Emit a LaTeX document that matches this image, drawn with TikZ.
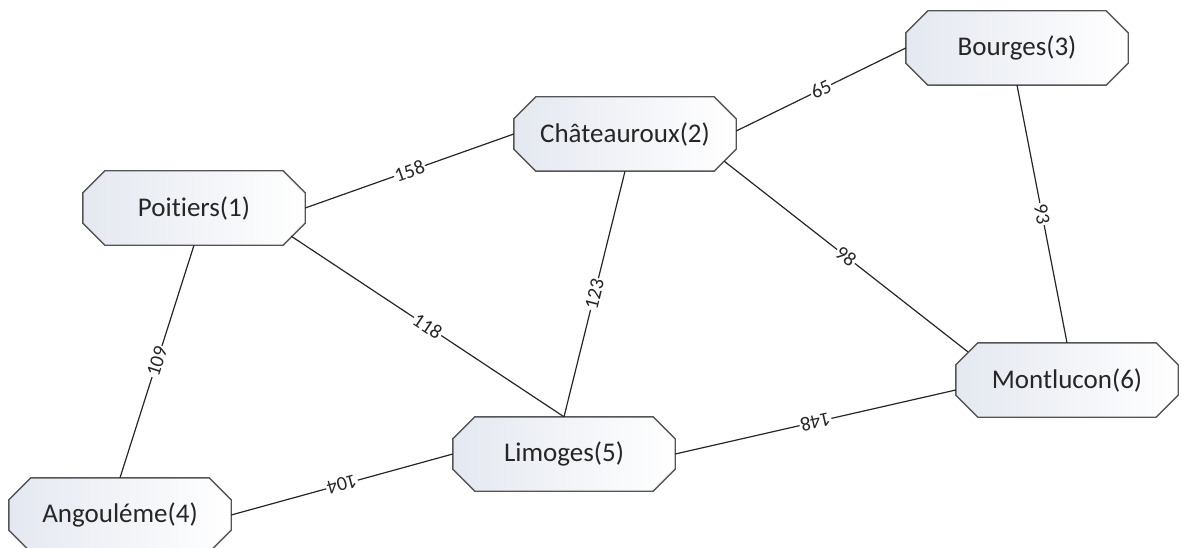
\documentclass[tikz,border=0pt]{standalone}
\usepackage{fontspec}
\setmainfont[Ligatures={NoCommon,NoContextual}]{Carlito}
\usetikzlibrary{calc}
\pgfdeclarelayer{bg}
\pgfsetlayers{bg,main}
\definecolor{nfill}{RGB}{228,232,240}
\definecolor{nborder}{RGB}{85,85,85}
\begin{document}
\begin{tikzpicture}[x=1pt,y=-1pt,
 city/.style={rectangle, minimum width=222pt, minimum height=74pt, inner sep=0pt,
   text=black!85, font=\fontsize{27}{30}\selectfont},
 octo/.style={draw=nborder, line width=1.4pt, left color=nfill, right color=white},
 road/.style={line width=1.2pt, draw=black!85},
 wt/.style={midway, sloped, fill=white, inner sep=1pt, text=black!85, font=\fontsize{20}{22}\selectfont}
]
\useasboundingbox (0,0) rectangle (1185,548);
\node[city] (P) at (194,208) {Poitiers(1)};
\node[city] (C) at (625,134) {Châteauroux(2)};
\node[city] (B) at (1017,48) {Bourges(3)};
\node[city] (A) at (120,515) {Angouléme(4)};
\node[city] (L) at (564,454) {Limoges(5)};
\node[city] (M) at (1067,380) {Montlucon(6)};

\begin{pgfonlayer}{bg}
\foreach \n in {P,C,B,A,L,M}{
  \path[octo] ($(\n.north west)+(22,0)$) -- ($(\n.north east)+(-22,0)$)
    -- ($(\n.north east)+(0,22)$) -- ($(\n.south east)+(0,-22)$)
    -- ($(\n.south east)+(-22,0)$) -- ($(\n.south west)+(22,0)$)
    -- ($(\n.south west)+(0,-22)$) -- ($(\n.north west)+(0,22)$) -- cycle;
}
\end{pgfonlayer}

\draw[road] (P.east) -- node[wt] {158} (C.west);
\draw[road] ($(P.south east)+(-14,-9)$) -- node[wt] {118} (L.north);
\draw[road] (P.south) -- node[wt] {109} (A.north);
\draw[road] ($(C.east)+(0,-3)$) -- node[wt] {65} (B.west);
\draw[road] ($(C.south east)+(-12,-10)$) -- node[wt] {98} ($(M.north west)+(12,9)$);
\draw[road] (C.south) -- node[wt] {123} (L.north);
\draw[road] (B.south) -- node[wt] {93} (M.north);
\draw[road] ($(M.west)+(0,10)$) -- node[wt, allow upside down] {148} (L.east);
\draw[road] (L.west) -- node[wt, allow upside down] {104} (A.east);
\end{tikzpicture}
\end{document}
